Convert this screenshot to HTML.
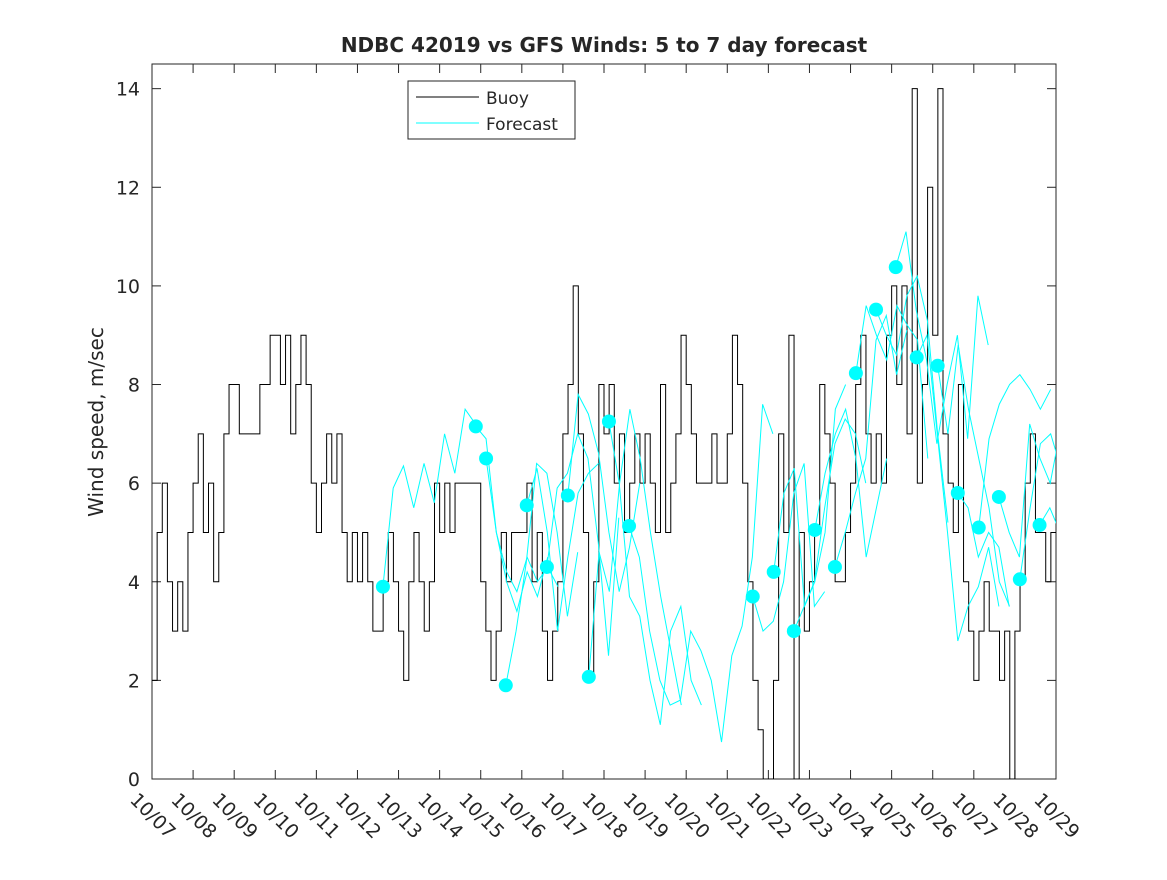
<!DOCTYPE html>
<html><head><meta charset="utf-8"><style>
body{margin:0;background:#fff;}
svg text{font-family:"DejaVu Sans","Liberation Sans",sans-serif;fill:#262626;}
</style></head><body>
<svg id="chart" width="1167" height="875" xmlns="http://www.w3.org/2000/svg">
<rect x="0" y="0" width="1167" height="875" fill="#fff"/>
<defs><clipPath id="clip"><rect x="152" y="64" width="904" height="715"/></clipPath></defs>
<text x="604" y="52" font-size="20" font-weight="bold" text-anchor="middle" fill="#000">NDBC 42019 vs GFS Winds: 5 to 7 day forecast</text>
<text transform="translate(103,422) rotate(-90)" font-size="20" text-anchor="middle">Wind speed, m/sec</text>
<g id="axes"></g>
<g id="series" clip-path="url(#clip)"></g>
<g id="dots"></g>
<g>
<rect x="408" y="81" width="167" height="58" fill="#fff" stroke="#262626" stroke-width="1"/>
<line x1="416" y1="97" x2="479" y2="97" stroke="#000"/>
<text x="486" y="104" font-size="17" fill="#000">Buoy</text>
<line x1="416" y1="123" x2="479" y2="123" stroke="#00ffff"/>
<text x="486" y="130" font-size="17" fill="#000">Forecast</text>
</g>
</svg>
<script>
const dayLabels=["10/07","10/08","10/09","10/10","10/11","10/12","10/13","10/14","10/15","10/16","10/17","10/18","10/19","10/20","10/21","10/22","10/23","10/24","10/25","10/26","10/27","10/28","10/29"];
const yTicks=[0,2,4,6,8,10,12,14];
// buoy: 3-hourly values starting 10/07 00:00
const buoy=[2,5,6,4,3,4,3,5, 6,7,5,6,4,5,7,8, 8,7,7,7,7,8,8,9, 9,8,9,7,8,9,8,6, 5,6,7,6,7,5,4,5, 4,5,4,3,3,4,5,4, 3,2,4,5,4,3,4,6, 5,6,5,6,6,6,6,6, 4,3,2,3,5,4,5,5, 5,6,4,5,3,2,3,4, 7,8,10,7,5,2,4,8, 7,8,6,7,5,6,7,6, 7,6,5,8,5,6,7,9, 8,7,6,6,6,7,6,6, 7,9,8,6,4,2,1,0, 0,2,7,5,9,0,5,3, 4,5,8,7,6,4,4,5, 6,8,9,7,6,7,6,9, 10,8,10,7,14,6,8,12, 9,14,7,6,5,8,4,3, 2,3,4,3,3,2,3,0, 3,4,6,7,5,5,4,5];
const runStarts=[5.62,7.88,8.13,8.61,9.12,9.61,10.12,10.63,11.12,11.61,14.62,15.13,15.62,16.13,16.62,17.13,17.62,18.1,18.61,19.12,19.61,20.12,20.61,21.12,21.6];
const runValues=[
[3.9,5.9,6.35,5.5,6.4,5.6,7.0,6.2,7.5,7.2],
[7.15,6.9,5.0,4.0,3.4,4.2,3.7,4.5],
[6.5,5.0,4.2,3.8,4.5,4.0,4.3,3.9],
[1.9,3.0,4.4,6.4,6.2,5.0,3.3,4.6],
[5.55,6.3,5.0,3.0,4.5,5.8,6.2,6.4],
[4.3,5.9,6.2,7.0,6.5,4.8,2.5,5.3],
[5.75,7.8,7.4,6.6,5.0,3.8,4.7,6.0],
[2.07,4.6,3.8,6.0,7.5,6.5,5.0,3.7,2.6,1.5],
[7.25,6.0,3.7,3.3,2.0,1.1,3.0,3.5,2.0,1.5],
[5.13,4.5,3.0,2.0,1.5,1.6,3.0,2.6,2.0,0.75,2.5,3.1,4.5,7.6,7.0],
[3.7,3.0,3.2,4.0,5.8,6.4,3.5,3.8],
[4.2,5.8,6.3,3.5,4.0,5.0,7.5,8.0],
[3.0,3.5,4.0,5.5,6.8,7.3,7.0,6.0],
[5.05,6.2,7.0,7.5,6.5,4.5,5.5,6.5],
[4.3,5.0,5.8,6.5,8.9,9.4,8.2,9.1],
[8.23,9.6,9.0,8.5,9.6,9.2,8.9,6.5],
[9.52,9.0,8.6,9.8,10.2,9.3,7.0,5.2],
[10.38,11.1,9.5,8.5,6.8,8.0,9.0,6.9,9.8,8.8],
[8.55,9.0,7.0,5.0,2.8,3.5,3.9,4.7,3.5],
[8.38,7.0,8.8,7.5,6.5,5.5,4.0,3.5],
[5.8,5.5,4.5,5.0,4.7,3.5],
[5.1,6.9,7.6,8.0,8.2,7.9,7.5,7.9],
[5.72,5.0,4.5,7.2,6.5,6.0,7.1],
[4.05,5.5,6.8,7.0,6.3,5.2,3.0],
[5.15,5.5,5.0,4.5,3.0,1.5]
];
const NS="http://www.w3.org/2000/svg";
const X0=152,X1=1056,Y0=779,Y1=64,DAYS=22,YMAX=14.5;
const sx=d=>X0+(X1-X0)*d/DAYS;
const sy=v=>Y0-(Y0-Y1)*v/YMAX;
function mk(tag,attrs,parent){const e=document.createElementNS(NS,tag);for(const k in attrs)e.setAttribute(k,attrs[k]);parent.appendChild(e);return e;}
const axes=document.getElementById('axes'),series=document.getElementById('series'),dots=document.getElementById('dots');
const frame=mk('rect',{x:X0,y:Y1,width:X1-X0,height:Y0-Y1,fill:'none',stroke:'#262626','stroke-width':1},axes);


yTicks.forEach(v=>{
  const y=sy(v);
  mk('line',{x1:X0,y1:y,x2:X0+9,y2:y,stroke:'#262626'},axes);
  mk('line',{x1:X1,y1:y,x2:X1-9,y2:y,stroke:'#262626'},axes);
  const t=mk('text',{x:X0-12,y:y+7,'font-size':19,'text-anchor':'end'},axes);
  t.textContent=v;
  
  
});
dayLabels.forEach((l,i)=>{
  const x=sx(i);
  mk('line',{x1:x,y1:Y0,x2:x,y2:Y0-9,stroke:'#262626'},axes);
  mk('line',{x1:x,y1:Y1,x2:x,y2:Y1+9,stroke:'#262626'},axes);
  const t=mk('text',{transform:`translate(${x-23},${Y0+22}) rotate(45)`,'font-size':19},axes);
  t.textContent=l;
  
  
});
let d='';
buoy.forEach((v,i)=>{
  const x=sx(i/8),y=sy(v);
  d+=(i===0?`M${x},${y}`:`V${y}`)+`H${sx((i+1)/8)}`;
});
const bl=mk('path',{d:d,fill:'none',stroke:'#000','stroke-width':1},series);


runStarts.forEach((s,r)=>{
  const pts=runValues[r].map((v,i)=>`${sx(s+i*0.25)},${sy(v)}`).join(' ');
  const pl=mk('polyline',{points:pts,fill:'none',stroke:'#00ffff','stroke-width':1},series);
  
  
  const c=mk('circle',{cx:sx(s),cy:sy(runValues[r][0]),r:7,fill:'#00ffff'},dots);
  
  
});
</script>
</body></html>
